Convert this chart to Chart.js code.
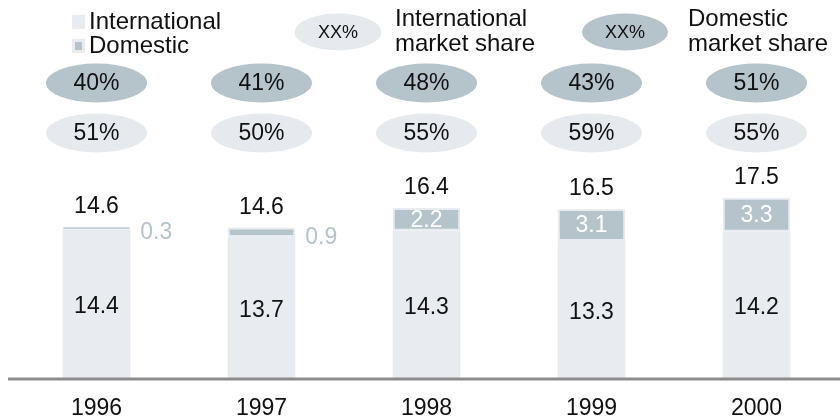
<!DOCTYPE html>
<html>
<head>
<meta charset="utf-8">
<script src="https://cdn.jsdelivr.net/npm/chart.js@4"></script>
<style>
  html, body { margin: 0; padding: 0; background: #fff; }
  #wrap { width: 840px; height: 420px; }
</style>
</head>
<body>
<div id="wrap"><canvas id="chartMercado" width="840" height="420"></canvas></div>
<script>
const anios = ["1996", "1997", "1998", "1999", "2000"];
const internacional = [14.4, 13.7, 14.3, 13.3, 14.2];
const domestico = [0.3, 0.9, 2.2, 3.1, 3.3];
const totales = ["14.6", "14.6", "16.4", "16.5", "17.5"];
const cuotaDomestica = ["40%", "41%", "48%", "43%", "51%"];
const cuotaInternacional = ["51%", "50%", "55%", "59%", "55%"];

const FUENTE = "'Liberation Sans', Arial, sans-serif";
const CLARO = "#e8ecf0";
const OSCURO = "#b5c3ca";
const TEXTO = "#111111";

function elipse(ctx, x, y, w, h, color) {
    ctx.beginPath();
    ctx.ellipse(x, y, w / 2, h / 2, 0, 0, Math.PI * 2);
    ctx.fillStyle = color;
    ctx.fill();
}

// leyenda de arriba, óvalos de cuota y etiquetas de valores
const pluginAnotaciones = {
    id: "anotaciones",
    afterDatasetsDraw(chart) {
        const ctx = chart.ctx;
        const x = chart.scales.x;
        const y = chart.scales.y;
        ctx.save();
        ctx.textBaseline = "middle";

        // línea del eje
        const base = y.getPixelForValue(0);
        ctx.strokeStyle = "#8c8c8c";
        ctx.lineWidth = 3;
        ctx.beginPath();
        ctx.moveTo(8, base + 1);
        ctx.lineTo(840, base + 1);
        ctx.stroke();

        // leyenda de series
        ctx.fillStyle = CLARO;
        ctx.fillRect(72, 15, 13, 14);
        ctx.fillRect(72, 39, 13, 14);
        ctx.fillStyle = OSCURO;
        ctx.fillRect(75, 42, 7, 8);
        ctx.fillStyle = TEXTO;
        ctx.font = "24px " + FUENTE;
        ctx.textAlign = "left";
        ctx.fillText("International", 89, 22);
        ctx.fillText("Domestic", 89, 46);

        // leyenda de óvalos
        elipse(ctx, 338, 32, 87, 37, "#e6eaef");
        elipse(ctx, 625, 32, 86, 37, OSCURO);
        ctx.fillStyle = TEXTO;
        ctx.font = "18px " + FUENTE;
        ctx.textAlign = "center";
        ctx.fillText("XX%", 338, 33);
        ctx.fillText("XX%", 625, 33);
        ctx.font = "24px " + FUENTE;
        ctx.textAlign = "left";
        ctx.fillText("International", 395, 19);
        ctx.fillText("market share", 395, 44);
        ctx.fillText("Domestic", 688, 19);
        ctx.fillText("market share", 688, 44);

        const metaInt = chart.getDatasetMeta(0);
        const metaDom = chart.getDatasetMeta(1);

        anios.forEach((anio, i) => {
            const cx = x.getPixelForValue(i);

            // óvalos de cuota
            elipse(ctx, cx, 83, 101, 39, OSCURO);
            elipse(ctx, cx, 133, 101, 39, "#e6eaef");
            ctx.fillStyle = TEXTO;
            ctx.font = "23px " + FUENTE;
            ctx.textAlign = "center";
            ctx.fillText(cuotaDomestica[i], cx, 84);
            ctx.fillText(cuotaInternacional[i], cx, 134);

            // total encima de la barra
            const tope = y.getPixelForValue(internacional[i] + domestico[i]);
            ctx.fillText(totales[i], cx, tope - 20);

            // valor internacional en el centro del tramo
            const bi = metaInt.data[i];
            ctx.fillText(internacional[i].toFixed(1), cx, (bi.y + bi.base) / 2 + 3);

            // valor doméstico: dentro si cabe, si no a la derecha
            const bd = metaDom.data[i];
            const alto = bd.base - bd.y;
            if (alto > 20) {
                ctx.fillStyle = "#ffffff";
                ctx.fillText(domestico[i].toFixed(1), cx, (bd.y + bd.base) / 2 + 1);
            } else {
                ctx.fillStyle = OSCURO;
                ctx.textAlign = "left";
                ctx.fillText(domestico[i].toFixed(1), bd.x + bd.width / 2 + 10, (bd.y + bd.base) / 2 + 5);
            }
        });
        ctx.restore();
    }
};

const ctx = document.getElementById("chartMercado");

new Chart(ctx, {
    type: "bar",
    data: {
        labels: anios,
        datasets: [{
            label: "International",
            data: internacional,
            backgroundColor: CLARO,
            borderWidth: 0,
            barPercentage: 0.82,
            categoryPercentage: 0.5
        }, {
            label: "Domestic",
            data: domestico,
            backgroundColor: OSCURO,
            borderColor: CLARO,
            // tramos muy finos con borde más delgado para que se vea el relleno
            borderWidth: c => (c.raw < 0.5 ? 1 : 2),
            borderSkipped: false,
            barPercentage: 0.82,
            categoryPercentage: 0.5
        }]
    },
    options: {
        responsive: false,
        animation: false,
        layout: { padding: { top: 172, left: 14, right: 1, bottom: 0 } },
        plugins: {
            legend: { display: false },
            tooltip: { enabled: false }
        },
        scales: {
            x: {
                stacked: true,
                grid: { display: false, drawTicks: false },
                border: { display: false },
                afterFit(scale) {
                    scale.height = 42;
                },
                ticks: {
                    color: TEXTO,
                    font: { family: FUENTE, size: 23, lineHeight: 1 },
                    padding: 19
                }
            },
            y: {
                stacked: true,
                display: false,
                min: 0,
                max: 20
            }
        }
    },
    plugins: [pluginAnotaciones]
});
</script>
</body>
</html>
